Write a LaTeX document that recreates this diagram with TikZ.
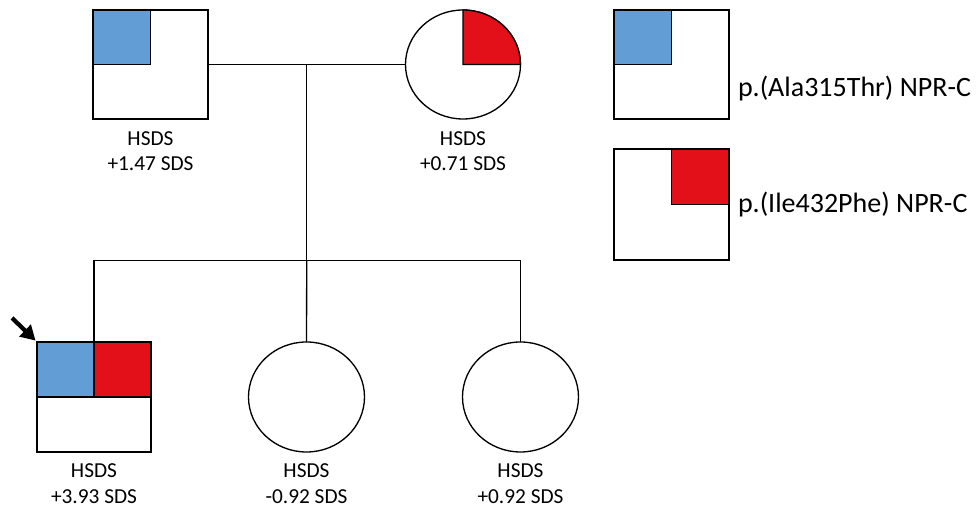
\documentclass[tikz,border=0pt]{standalone}
\usepackage{fontspec}
\setmainfont{Carlito}
\usetikzlibrary{shapes.geometric,arrows.meta,positioning,calc}
\definecolor{VariantBlue}{RGB}{99,157,213}
\definecolor{VariantRed}{RGB}{227,16,26}
\def\px{0.75pt}
\tikzset{
  male/.style={draw, rectangle, line width=1pt, inner sep=0, outer sep=0,
    minimum width=115*\px, minimum height=109*\px},
  female/.style={draw, ellipse, line width=1pt, inner sep=0, outer sep=0,
    minimum width=115*\px, minimum height=109*\px},
  hsds/.style={inner sep=0, outer sep=0, align=center,
    font=\fontsize{16}{19}\selectfont},
  legendtext/.style={inner sep=0, outer sep=0, anchor=base west,
    font=\fontsize{21}{25}\selectfont},
}
\begin{document}
\begin{tikzpicture}[x=\px, y=\px, line width=1pt]

    \useasboundingbox (0,0) rectangle (976,509);

    % ---------- Parents
    \node[male] (father) at (150.5,444.5) {};
    \node[female] (mother) at (463,444.5) {};
    \filldraw[fill=VariantBlue] (father.north west) rectangle (father.center);
    \filldraw[fill=VariantRed] (mother.center) -- (mother.east)
      arc[start angle=0, end angle=90, x radius=57.5, y radius=54.5] -- cycle;
    \node[hsds, below=12.7*\px of father] (fatherLabel) {HSDS\\+1.47 SDS};
    \node[hsds, below=12.7*\px of mother] (motherLabel) {HSDS\\+0.71 SDS};

    % ---------- Children
    \node[male, minimum width=114*\px, minimum height=110*\px] (proband) at (94,112) {};
    \node[female, minimum width=116*\px, minimum height=110*\px] (childTwo) at (306.5,112) {};
    \node[female, minimum width=116*\px, minimum height=110*\px] (childThree) at (520.5,112) {};
    \filldraw[fill=VariantBlue] (proband.north west) rectangle (proband.center);
    \filldraw[fill=VariantRed] (proband.north) rectangle (proband.east);
    \node[hsds, below=12*\px of proband] (probandLabel) {HSDS\\+3.93 SDS};
    \node[hsds, below=12*\px of childTwo] (childTwoLabel) {HSDS\\-0.92 SDS};
    \node[hsds, below=12*\px of childThree] (childThreeLabel) {HSDS\\+0.92 SDS};

    % Lines of descent
    \coordinate (marriage) at ($(father.east)!0.5!(mother.west)$);
    \coordinate (sibship) at (marriage |- 0,248.5);
    \draw (father.east) -- (mother.west);
    \draw (marriage) -- (sibship);
    \draw (proband.north) |- (sibship) -| (childThree.north);
    \draw (sibship) -- (childTwo.north);

    % Show proband
    \coordinate (arrowTail) at (12,191);
    \draw[line width=3.2pt, -{Triangle[length=11pt, width=12pt]}, shorten >=1.5pt]
      (arrowTail) -- (proband.north west);

    % ---------- Legend
    \node[male] (legendA) at (671.5,444.5) {};
    \node[male, minimum height=111*\px] (legendB) at (671.5,304.5) {};
    \filldraw[fill=VariantBlue] (legendA.north west) rectangle (legendA.center);
    \filldraw[fill=VariantRed] (legendB.north) rectangle (legendB.east);
    \node[legendtext] (legendAText) at (738,412.3) {p.(Ala315Thr) NPR-C};
    \node[legendtext] (legendBText) at (738,296) {p.(Ile432Phe) NPR-C};

\end{tikzpicture}
\end{document}
